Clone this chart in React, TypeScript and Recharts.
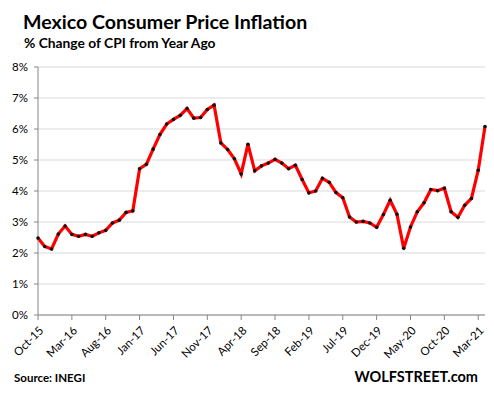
import React from 'react';
import { LineChart, Line, XAxis, YAxis, CartesianGrid } from 'recharts';

const months = [
  'Oct-15', 'Nov-15', 'Dec-15',
  'Jan-16', 'Feb-16', 'Mar-16', 'Apr-16', 'May-16', 'Jun-16', 'Jul-16', 'Aug-16', 'Sep-16', 'Oct-16', 'Nov-16', 'Dec-16',
  'Jan-17', 'Feb-17', 'Mar-17', 'Apr-17', 'May-17', 'Jun-17', 'Jul-17', 'Aug-17', 'Sep-17', 'Oct-17', 'Nov-17', 'Dec-17',
  'Jan-18', 'Feb-18', 'Mar-18', 'Apr-18', 'May-18', 'Jun-18', 'Jul-18', 'Aug-18', 'Sep-18', 'Oct-18', 'Nov-18', 'Dec-18',
  'Jan-19', 'Feb-19', 'Mar-19', 'Apr-19', 'May-19', 'Jun-19', 'Jul-19', 'Aug-19', 'Sep-19', 'Oct-19', 'Nov-19', 'Dec-19',
  'Jan-20', 'Feb-20', 'Mar-20', 'Apr-20', 'May-20', 'Jun-20', 'Jul-20', 'Aug-20', 'Sep-20', 'Oct-20', 'Nov-20', 'Dec-20',
  'Jan-21', 'Feb-21', 'Mar-21', 'Apr-21',
];

const inflation = [
  2.48, 2.21, 2.13,
  2.61, 2.87, 2.60, 2.54, 2.60, 2.54, 2.65, 2.73, 2.97, 3.06, 3.31, 3.36,
  4.72, 4.86, 5.35, 5.82, 6.16, 6.31, 6.44, 6.66, 6.35, 6.37, 6.63, 6.77,
  5.55, 5.34, 5.04, 4.55, 5.51, 4.65, 4.81, 4.90, 5.02, 4.90, 4.72, 4.83,
  4.37, 3.94, 4.00, 4.41, 4.28, 3.95, 3.78, 3.16, 3.00, 3.02, 2.97, 2.83,
  3.24, 3.70, 3.25, 2.15, 2.84, 3.33, 3.62, 4.05, 4.01, 4.09, 3.33, 3.15,
  3.54, 3.76, 4.67, 6.08,
];

const yTicks = [0, 1, 2, 3, 4, 5, 6, 7, 8];

const data = months.map((m, i) => ({ month: m, value: inflation[i] }));

const FONT = 'Lato, "Open Sans", sans-serif';

const XTick = (props: any) => {
  const { x, y, payload } = props;
  return (
    <text
      x={x + 3}
      y={y + 6}
      transform={`rotate(-45, ${x + 3}, ${y + 6})`}
      textAnchor="end"
      dominantBaseline="central"
      fontSize={11.5}
      fontFamily={FONT}
      fill="#000"
    >
      {payload.value}
    </text>
  );
};

const Dot = (props: any) => {
  const { cx, cy } = props;
  return <circle cx={cx} cy={cy} r={1.8} fill="#111" />;
};

export default function App() {
  return (
    <div style={{ position: 'absolute', left: 0, top: 0, width: 494, height: 397, background: '#fff' }}>
      <LineChart
        width={494}
        height={397}
        data={data}
        margin={{ top: 67, right: 9, left: 8, bottom: 32 }}
      >
        <CartesianGrid horizontal vertical={false} stroke="#d9d9d9" strokeWidth={1} />
        <XAxis
          dataKey="month"
          interval={4}
          height={50}
          stroke="#868686"
          tickSize={5}
          tick={<XTick />}
          padding={{ left: 0, right: 0 }}
        />
        <YAxis
          domain={[0, 8]}
          ticks={yTicks}
          width={30}
          stroke="#868686"
          tickSize={4}
          tickMargin={6}
          tickFormatter={(v: number) => `${v}%`}
          tick={{ fontSize: 11.5, fontFamily: FONT, fill: '#000' }}
          interval={0}
        />
        <Line
          type="linear"
          dataKey="value"
          stroke="#ff0000"
          strokeWidth={3.2}
          dot={<Dot />}
          activeDot={false}
          isAnimationActive={false}
        />
      </LineChart>
      <svg
        width={494}
        height={397}
        style={{ position: 'absolute', left: 0, top: 0, pointerEvents: 'none' }}
      >
        <text x={23} y={29} fontSize={19.6} fontWeight="bold" fontFamily={FONT} fill="#000">
          Mexico Consumer  Price Inflation
        </text>
        <text x={24} y={48} fontSize={13.8} fontWeight="bold" fontFamily={FONT} fill="#000">
          % Change of CPI from Year Ago
        </text>
        <text x={14} y={382} fontSize={11.5} fontWeight="bold" fontFamily={FONT} fill="#000">
          Source: INEGI
        </text>
        <text x={478} y={382} textAnchor="end" fontSize={14.5} fontWeight="bold" fontFamily={FONT} fill="#000">
          WOLFSTREET.com
        </text>
      </svg>
    </div>
  );
}
